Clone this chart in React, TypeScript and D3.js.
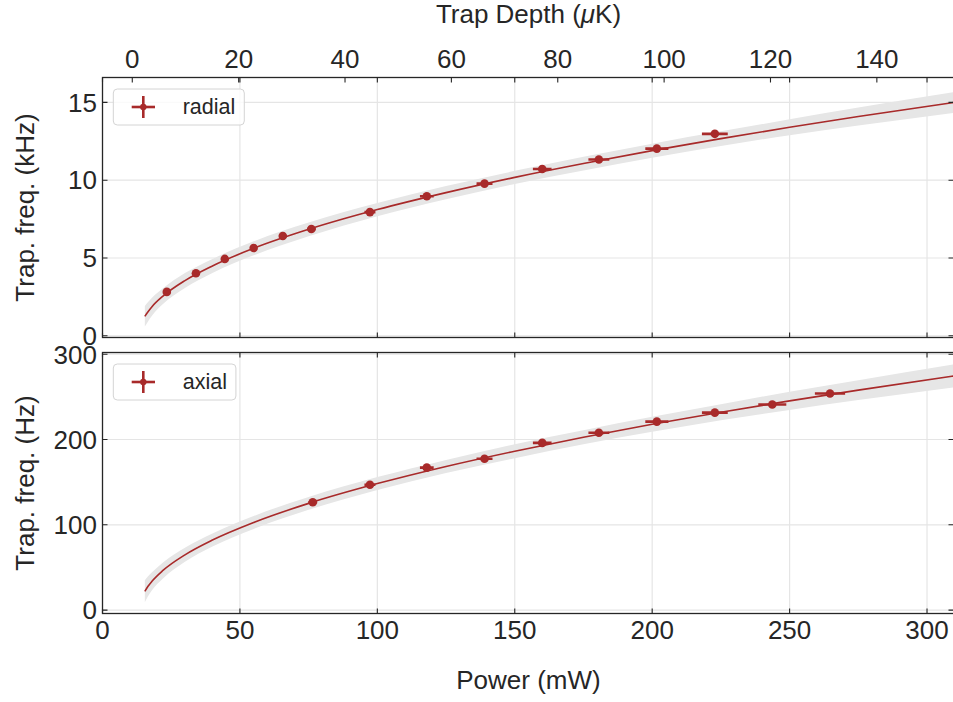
import React, { useEffect, useRef } from "react";
import * as d3 from "d3";

// measured trap frequencies
const radialPower = [23.4, 34, 44.5, 55, 65.6, 76, 97.3, 118, 139, 160, 180.6, 201.7, 222.8];
const radialFreq = [2.82, 4.02, 4.94, 5.64, 6.41, 6.86, 7.95, 8.97, 9.78, 10.72, 11.33, 12.03, 12.98];
const radialPowerErr = [0.5, 0.7, 0.9, 1.2, 1.4, 1.6, 2.0, 2.5, 2.9, 3.4, 3.8, 4.2, 4.7];
const radialFreqErr = [0.1, 0.1, 0.1, 0.1, 0.1, 0.1, 0.1, 0.1, 0.1, 0.1, 0.1, 0.1, 0.1];

const axialPower = [76.5, 97.3, 118, 139, 160, 180.6, 201.7, 222.8, 243.7, 264.7];
const axialFreq = [126.5, 147, 167, 177.5, 196, 208, 221, 231.5, 241, 254];
const axialPowerErr = [1.6, 2.0, 2.5, 2.9, 3.4, 3.8, 4.2, 4.7, 5.1, 5.5];
const axialFreqErr = [2, 2, 2, 2, 2, 2, 2, 2, 2, 2];

// fitted curves and confidence band half-widths
const fitPower = [15.4, 16.5, 18, 22, 30, 40, 55, 75, 100, 125, 150, 175, 200, 225, 250, 275, 310];
const radialFit = [1.25, 1.53, 1.87, 2.55, 3.55, 4.49, 5.62, 6.84, 8.11, 9.2, 10.18, 11.07, 11.9, 12.67, 13.4, 14.09, 15.0];
const radialBand = [0.66, 0.62, 0.58, 0.51, 0.48, 0.45, 0.45, 0.44, 0.42, 0.42, 0.42, 0.44, 0.45, 0.47, 0.51, 0.58, 0.67];
const axialFit = [22, 27.6, 33.8, 46.5, 64.8, 82.1, 102.7, 125.1, 148.3, 168.4, 186.3, 202.7, 217.8, 232, 245.3, 257.9, 274.6];
const axialBand = [12.9, 11.8, 10.6, 9.4, 8.2, 7.6, 7.6, 7.6, 7.6, 7.6, 8.2, 8.2, 8.8, 9.4, 10.6, 11.7, 13.5];

// axes
const powerTicks = [0, 50, 100, 150, 200, 250, 300];
const depthTicks = [0, 20, 40, 60, 80, 100, 120, 140];
const radialTicks = [0, 5, 10, 15];
const axialTicks = [0, 100, 200, 300];

const powerDomain = [0, 310];
const depthDomain = [-5.6, 154.6];
const radialDomain = [-0.11, 16.6];
const axialDomain = [-4, 302];

const RED = "#a82a2a";
const INK = "#262626";
const GRID = "#e5e5e5";
const FONT = "'Liberation Sans', Arial, Helvetica, sans-serif";

export default function App() {
  const svgRef = useRef<SVGSVGElement>(null);

  useEffect(() => {
    createChart();
  }, []);

  const createChart = () => {
    const width = 953;
    const height = 702;
    const left = 102.5;
    const right = 954.5;

    d3.select(svgRef.current).selectAll("*").remove();

    const svg = d3
      .select(svgRef.current)
      .attr("width", width)
      .attr("height", height)
      .attr("viewBox", [0, 0, width, height])
      .style("font-family", FONT);

    svg.append("rect").attr("width", width).attr("height", height).attr("fill", "white");

    const x = d3.scaleLinear().domain(powerDomain).range([left, right]);
    const xDepth = d3.scaleLinear().domain(depthDomain).range([left, right]);

    const measure = document.createElement("canvas").getContext("2d");

    const panels = [
      {
        top: 77.5,
        bottom: 337.5,
        domain: radialDomain,
        ticks: radialTicks,
        label: "Trap. freq. (kHz)",
        legend: "radial",
        power: radialPower,
        freq: radialFreq,
        powerErr: radialPowerErr,
        freqErr: radialFreqErr,
        fit: radialFit,
        band: radialBand,
      },
      {
        top: 352.5,
        bottom: 613.5,
        domain: axialDomain,
        ticks: axialTicks,
        label: "Trap. freq. (Hz)",
        legend: "axial",
        power: axialPower,
        freq: axialFreq,
        powerErr: axialPowerErr,
        freqErr: axialFreqErr,
        fit: axialFit,
        band: axialBand,
      },
    ];

    panels.forEach((p, i) => {
      const y = d3.scaleLinear().domain(p.domain).range([p.bottom, p.top]);
      const clipId = `clip-${i}`;
      svg
        .append("clipPath")
        .attr("id", clipId)
        .append("rect")
        .attr("x", left)
        .attr("y", p.top)
        .attr("width", right - left)
        .attr("height", p.bottom - p.top);

      const g = svg.append("g").attr("clip-path", `url(#${clipId})`);

      // grid
      g.append("g")
        .selectAll("line")
        .data(powerTicks)
        .join("line")
        .attr("x1", (d) => x(d))
        .attr("x2", (d) => x(d))
        .attr("y1", p.top)
        .attr("y2", p.bottom)
        .attr("stroke", GRID)
        .attr("stroke-width", 1.2);
      g.append("g")
        .selectAll("line")
        .data(p.ticks)
        .join("line")
        .attr("x1", left)
        .attr("x2", right)
        .attr("y1", (d) => y(d))
        .attr("y2", (d) => y(d))
        .attr("stroke", GRID)
        .attr("stroke-width", 1.2);

      // fit band + curve
      const idx = d3.range(fitPower.length);
      g.append("path")
        .attr(
          "d",
          d3
            .area<number>()
            .x((k) => x(fitPower[k]))
            .y0((k) => y(p.fit[k] - p.band[k]))
            .y1((k) => y(p.fit[k] + p.band[k]))
            .curve(d3.curveMonotoneX)(idx)
        )
        .attr("fill", "#e6e6e6");
      g.append("path")
        .attr(
          "d",
          d3
            .line<number>()
            .x((k) => x(fitPower[k]))
            .y((k) => y(p.fit[k]))
            .curve(d3.curveMonotoneX)(idx)
        )
        .attr("fill", "none")
        .attr("stroke", RED)
        .attr("stroke-width", 1.6);

      // error bars + markers
      const pts = d3.range(p.power.length);
      const eb = g.append("g").attr("stroke", RED).attr("stroke-width", 2.6);
      eb.selectAll(".xe")
        .data(pts)
        .join("line")
        .attr("x1", (k) => x(p.power[k] - p.powerErr[k]))
        .attr("x2", (k) => x(p.power[k] + p.powerErr[k]))
        .attr("y1", (k) => y(p.freq[k]))
        .attr("y2", (k) => y(p.freq[k]));
      eb.selectAll(".ye")
        .data(pts)
        .join("line")
        .attr("x1", (k) => x(p.power[k]))
        .attr("x2", (k) => x(p.power[k]))
        .attr("y1", (k) => y(p.freq[k] - p.freqErr[k]))
        .attr("y2", (k) => y(p.freq[k] + p.freqErr[k]));
      g.append("g")
        .selectAll("circle")
        .data(pts)
        .join("circle")
        .attr("cx", (k) => x(p.power[k]))
        .attr("cy", (k) => y(p.freq[k]))
        .attr("r", 4.3)
        .attr("fill", RED);

      // legend
      const fs = 21.5;
      if (measure) measure.font = `${fs}px Liberation Sans`;
      const tw = measure ? measure.measureText(p.legend).width : 60;
      const lx = 113.3;
      const ly = p.top + 11.5;
      const lh = 36;
      const cy = ly + lh / 2;
      const lg = svg.append("g");
      lg.append("rect")
        .attr("x", lx)
        .attr("y", ly)
        .attr("width", 182.7 + tw + 9 - lx)
        .attr("height", lh)
        .attr("rx", 4)
        .attr("fill", "white")
        .attr("fill-opacity", 0.8)
        .attr("stroke", "#d4d4d4")
        .attr("stroke-width", 1);
      lg.append("line")
        .attr("x1", 131.7)
        .attr("x2", 155)
        .attr("y1", cy)
        .attr("y2", cy)
        .attr("stroke", RED)
        .attr("stroke-width", 2.6);
      lg.append("line")
        .attr("x1", 143.3)
        .attr("x2", 143.3)
        .attr("y1", cy - 11)
        .attr("y2", cy + 11)
        .attr("stroke", RED)
        .attr("stroke-width", 2.6);
      lg.append("circle").attr("cx", 143.3).attr("cy", cy).attr("r", 3.2).attr("fill", RED);
      lg.append("text")
        .attr("x", 182.7)
        .attr("y", cy + 7)
        .attr("font-size", fs)
        .attr("fill", INK)
        .text(p.legend);

      // spines
      svg
        .append("rect")
        .attr("x", left)
        .attr("y", p.top)
        .attr("width", right - left)
        .attr("height", p.bottom - p.top)
        .attr("fill", "none")
        .attr("stroke", INK)
        .attr("stroke-width", 1.3);

      // inward ticks
      const tk = svg.append("g").attr("stroke", INK).attr("stroke-width", 1.1);
      const tl = 5;
      tk.selectAll(".yt")
        .data(p.ticks)
        .join("path")
        .attr("d", (d) => `M${left},${y(d)}h${tl}M${right},${y(d)}h${-tl - 1}`);
      tk.selectAll(".xt")
        .data(powerTicks)
        .join("path")
        .attr("d", (d) => `M${x(d)},${p.top}v${tl}M${x(d)},${p.bottom}v${-tl}`);

      svg
        .append("g")
        .attr("font-size", 26)
        .attr("fill", INK)
        .attr("text-anchor", "end")
        .selectAll("text")
        .data(p.ticks)
        .join("text")
        .attr("x", 97)
        .attr("y", (d) => y(d) + 9.3)
        .text((d) => d3.format("d")(d));

      svg
        .append("text")
        .attr("transform", `translate(33.5,${(p.top + p.bottom) / 2}) rotate(-90)`)
        .attr("text-anchor", "middle")
        .attr("font-size", 26)
        .attr("fill", INK)
        .text(p.label);

      if (i === 0) {
        // secondary trap depth axis
        const dt = svg.append("g").attr("stroke", INK).attr("stroke-width", 1.1);
        dt.selectAll("path")
          .data(depthTicks)
          .join("path")
          .attr("d", (d) => `M${xDepth(d)},${p.top}v${tl}`);
        svg
          .append("g")
          .attr("font-size", 26)
          .attr("fill", INK)
          .attr("text-anchor", "middle")
          .selectAll("text")
          .data(depthTicks)
          .join("text")
          .attr("x", (d) => xDepth(d))
          .attr("y", 68.3)
          .text((d) => d);
        const t = svg
          .append("text")
          .attr("x", (left + right) / 2)
          .attr("y", 22.5)
          .attr("text-anchor", "middle")
          .attr("font-size", 26)
          .attr("fill", INK);
        t.append("tspan").text("Trap Depth (");
        t.append("tspan").attr("font-style", "italic").text("\u03bc");
        t.append("tspan").text("K)");
      } else {
        svg
          .append("g")
          .attr("font-size", 26)
          .attr("fill", INK)
          .attr("text-anchor", "middle")
          .selectAll("text")
          .data(powerTicks)
          .join("text")
          .attr("x", (d) => x(d))
          .attr("y", 639.3)
          .text((d) => d);
        svg
          .append("text")
          .attr("x", (left + right) / 2)
          .attr("y", 689)
          .attr("text-anchor", "middle")
          .attr("font-size", 26)
          .attr("fill", INK)
          .text("Power (mW)");
      }
    });
  };

  return (
    <svg
      ref={svgRef}
      style={{ position: "absolute", left: 0, top: 0, display: "block" }}
    ></svg>
  );
}
